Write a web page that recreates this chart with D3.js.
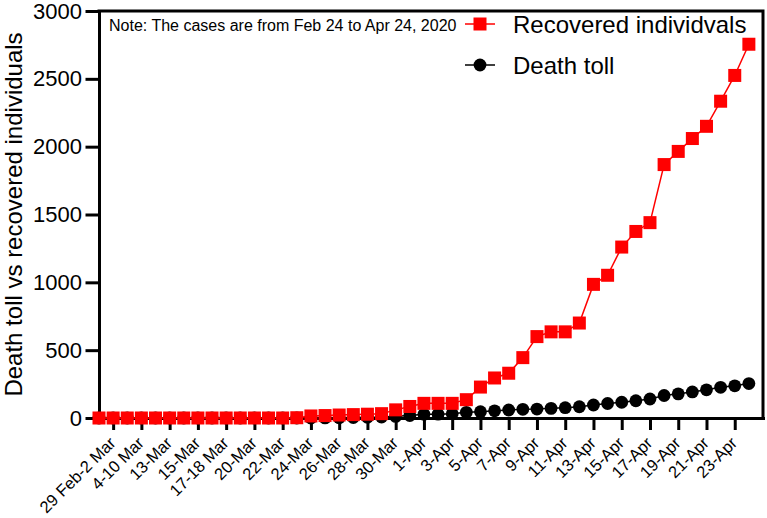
<!DOCTYPE html>
<html>
<head>
<meta charset="utf-8">
<script src="https://cdn.jsdelivr.net/npm/d3@7"></script>
<style>
  html, body { margin: 0; padding: 0; background: #fff; }
  svg { display: block; font-family: "Liberation Sans", Arial, Helvetica, sans-serif; }
</style>
</head>
<body>
<svg id="chart" width="767" height="518"></svg>
<script>
// ---- data ----
const categories = [
  "24-28 Feb", "29 Feb-2 Mar", "3 Mar", "4-10 Mar", "11-12 Mar", "13-Mar", "14-Mar", "15-Mar",
  "16-Mar", "17-18 Mar", "19-Mar", "20-Mar", "21-Mar", "22-Mar", "23-Mar", "24-Mar",
  "25-Mar", "26-Mar", "27-Mar", "28-Mar", "29-Mar", "30-Mar", "31-Mar", "1-Apr",
  "2-Apr", "3-Apr", "4-Apr", "5-Apr", "6-Apr", "7-Apr", "8-Apr", "9-Apr",
  "10-Apr", "11-Apr", "12-Apr", "13-Apr", "14-Apr", "15-Apr", "16-Apr", "17-Apr",
  "18-Apr", "19-Apr", "20-Apr", "21-Apr", "22-Apr", "23-Apr", "24-Apr"
];
const recovered = [
  0, 0, 0, 0, 0, 0, 0, 0,
  0, 0, 0, 0, 0, 0, 2, 15,
  18, 22, 25, 28, 32, 60, 85, 108,
  108, 108, 135, 228, 295, 330, 445, 600,
  635, 635, 700, 985, 1052, 1260, 1375, 1440,
  1868, 1965, 2060, 2150, 2335, 2525, 2755
];
const deaths = [
  0, 0, 0, 0, 0, 0, 0, 0,
  0, 0, 0, 0, 0, 0, 0, 0,
  1, 2, 3, 5, 7, 12, 18, 27,
  28, 32, 42, 46, 53, 59, 64, 66,
  71, 76, 83, 96, 107, 116, 127, 140,
  166, 178, 192, 208, 226, 237, 254
];
const tickLabels = [
  "29 Feb-2 Mar", "4-10 Mar", "13-Mar", "15-Mar", "17-18 Mar", "20-Mar", "22-Mar",
  "24-Mar", "26-Mar", "28-Mar", "30-Mar", "1-Apr", "3-Apr", "5-Apr", "7-Apr",
  "9-Apr", "11-Apr", "13-Apr", "15-Apr", "17-Apr", "19-Apr", "21-Apr", "23-Apr"
];
const yTicks = [0, 500, 1000, 1500, 2000, 2500, 3000];
const seriesNames = ["Recovered individvals", "Death toll"];
const noteText = "Note: The cases are from Feb 24 to Apr 24, 2020";
const yTitle = "Death toll vs recovered individuals";

// ---- layout ----
const svg = d3.select("#chart");
const pL = 99, pR = 763, pT = 11, pB = 418;

const x = d3.scaleLinear().domain([0, categories.length]).range([pL, pR]);
const y = d3.scaleLinear().domain([0, 3000]).range([pB, pT]);

const red = "#ff0000";

// frame (top + right)
svg.append("path")
  .attr("d", `M${pL},${pT}H${pR}V${pB}`)
  .attr("fill", "none").attr("stroke", "#000").attr("stroke-width", 3)
  .attr("stroke-linecap", "square");

// y axis
const yAxis = svg.append("g").attr("transform", `translate(${pL},0)`)
  .call(d3.axisLeft(y).tickValues(yTicks).tickSize(12).tickSizeOuter(0).tickPadding(5).tickFormat(d3.format("d")));
yAxis.selectAll("path, line").attr("stroke", "#000").attr("stroke-width", 3).attr("stroke-linecap", "square");
yAxis.selectAll("text").attr("font-size", 22).attr("fill", "#000")
  .attr("font-family", "'Liberation Sans', Arial, sans-serif");

// x axis
const tickIdx = tickLabels.map(l => categories.indexOf(l));
const xAxis = svg.append("g").attr("transform", `translate(0,${pB})`)
  .call(d3.axisBottom(x).tickValues(tickIdx).tickSize(12).tickSizeOuter(0).tickFormat(i => categories[i]));
xAxis.select(".domain").attr("stroke", "#000").attr("stroke-width", 3).attr("stroke-linecap", "square");
xAxis.selectAll(".tick line").attr("stroke", "#000").attr("stroke-width", 3);
xAxis.selectAll("text")
  .attr("font-size", 16.5).attr("fill", "#000")
  .attr("font-family", "'Liberation Sans', Arial, sans-serif")
  .attr("text-anchor", "end")
  .attr("x", 0).attr("y", 0).attr("dy", 0)
  .attr("transform", "translate(3,26) rotate(-45)");

// y title
svg.append("text")
  .attr("transform", `translate(22,${(pT + pB) / 2}) rotate(-90)`)
  .attr("text-anchor", "middle")
  .attr("font-size", 24).attr("fill", "#000")
  .text(yTitle);

// lines
const line = (arr) => d3.line().x((d, i) => x(i)).y(d => y(d))(arr);

svg.append("path").attr("d", line(deaths))
  .attr("fill", "none").attr("stroke", "#000").attr("stroke-width", 1.5);
svg.append("g").selectAll("circle").data(deaths).join("circle")
  .attr("cx", (d, i) => x(i)).attr("cy", d => y(d)).attr("r", 6.4).attr("fill", "#000");

svg.append("path").attr("d", line(recovered))
  .attr("fill", "none").attr("stroke", red).attr("stroke-width", 1.5);
const sq = 13;
svg.append("g").selectAll("rect").data(recovered).join("rect")
  .attr("x", (d, i) => x(i) - sq / 2).attr("y", d => y(d) - sq / 2)
  .attr("width", sq).attr("height", sq).attr("fill", red);

// note
svg.append("text").attr("x", 109).attr("y", 31)
  .attr("font-size", 16).attr("fill", "#000").text(noteText);

// legend
const legend = svg.append("g");
const legY = [24, 65];
legend.append("line").attr("x1", 465).attr("x2", 495).attr("y1", legY[0]).attr("y2", legY[0])
  .attr("stroke", red).attr("stroke-width", 1.5);
legend.append("rect").attr("x", 480 - sq / 2).attr("y", legY[0] - sq / 2)
  .attr("width", sq).attr("height", sq).attr("fill", red);
legend.append("line").attr("x1", 465).attr("x2", 495).attr("y1", legY[1]).attr("y2", legY[1])
  .attr("stroke", "#000").attr("stroke-width", 1.5);
legend.append("circle").attr("cx", 480).attr("cy", legY[1]).attr("r", 6.4).attr("fill", "#000");
legend.selectAll("text.lab").data(seriesNames).join("text").attr("class", "lab")
  .attr("x", 513).attr("y", (d, i) => legY[i] + 9)
  .attr("font-size", 24).attr("fill", "#000").text(d => d);
</script>
</body>
</html>
